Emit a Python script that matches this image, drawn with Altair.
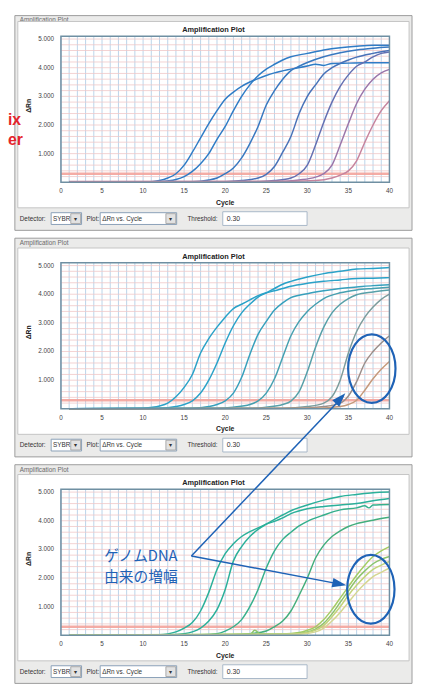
import altair as alt
import pandas as pd

# ---------------- data (cycle, ΔRn) ----------------
# Panel 1 : blue -> pink series
P1_C1 = [(1, 0.0), (11, 0.02), (12, 0.06), (13, 0.15), (14, 0.3), (15, 0.6), (16, 1.05), (17, 1.55), (18, 2.05),
         (19, 2.5), (20, 2.9), (21, 3.15), (22, 3.35), (23, 3.5), (24, 3.62), (25, 3.73), (26, 3.82), (28, 3.95),
         (30, 4.06), (31, 4.12), (32, 4.08), (33, 4.15), (35, 4.16), (37, 4.17), (40, 4.17)]
P1_C2 = [(1, 0.0), (12, 0.02), (13, 0.05), (14, 0.1), (15, 0.2), (16, 0.38), (17, 0.65), (18, 1.0), (19, 1.5),
         (20, 1.95), (21, 2.5), (22, 3.0), (23, 3.4), (24, 3.72), (25, 3.95), (26, 4.12), (27, 4.27), (28, 4.38),
         (30, 4.5), (32, 4.62), (34, 4.7), (36, 4.75), (38, 4.78), (40, 4.78)]
P1_C3 = [(1, 0.0), (16, 0.02), (18, 0.08), (19, 0.15), (20, 0.3), (21, 0.5), (22, 0.85), (23, 1.35), (24, 1.95),
         (25, 2.7), (26, 3.2), (27, 3.6), (28, 3.9), (29, 4.05), (30, 4.18), (32, 4.38), (34, 4.52), (36, 4.62),
         (38, 4.68), (40, 4.72)]
P1_C4 = [(1, 0.0), (20, 0.02), (22, 0.06), (24, 0.15), (25, 0.28), (26, 0.55), (27, 1.05), (28, 1.6), (29, 2.4),
         (30, 3.0), (31, 3.4), (32, 3.78), (33, 4.0), (34, 4.15), (35, 4.27), (36, 4.37), (38, 4.5), (40, 4.6)]
P1_C5 = [(1, 0.0), (24, 0.02), (26, 0.06), (28, 0.15), (29, 0.3), (30, 0.6), (31, 1.3), (32, 2.1), (33, 2.8),
         (34, 3.35), (35, 3.75), (36, 4.05), (37, 4.2), (38, 4.38), (39, 4.5), (40, 4.55)]
P1_C6 = [(1, 0.0), (26, 0.02), (29, 0.08), (31, 0.18), (32, 0.3), (33, 0.6), (34, 1.3), (35, 2.05), (36, 2.75),
         (37, 3.25), (38, 3.6), (39, 3.82), (40, 3.94)]
P1_C7 = [(1, 0.03), (28, 0.04), (31, 0.06), (33, 0.15), (34, 0.25), (35, 0.4), (36, 0.75), (37, 1.4), (38, 2.0),
         (39, 2.5), (40, 2.85)]
P1_COLORS = ["#2f7cc6", "#2f7cc6", "#3878c0", "#4872b8", "#6470b2", "#9a76aa", "#c6849e"]

# Panel 2 : cyan -> brown series
P2_C1 = [(1, 0.0), (10, 0.02), (11, 0.05), (12, 0.1), (13, 0.2), (14, 0.42), (15, 0.75), (16, 1.2), (17, 1.95),
         (18, 2.45), (19, 2.85), (20, 3.2), (21, 3.5), (22, 3.65), (23, 3.8), (24, 3.95), (25, 4.05), (26, 4.12),
         (27, 4.2), (28, 4.28), (30, 4.38), (32, 4.45), (34, 4.5), (36, 4.55), (38, 4.56), (40, 4.58)]
P2_C2 = [(1, 0.0), (12, 0.02), (14, 0.08), (15, 0.15), (16, 0.28), (17, 0.55), (18, 1.0), (19, 1.6), (20, 2.3),
         (21, 2.9), (22, 3.35), (23, 3.65), (24, 3.9), (25, 4.05), (26, 4.2), (27, 4.35), (28, 4.45), (30, 4.6),
         (32, 4.72), (34, 4.8), (36, 4.88), (38, 4.9), (40, 4.93)]
P2_C3 = [(1, 0.0), (16, 0.02), (18, 0.08), (19, 0.15), (20, 0.28), (21, 0.55), (22, 1.1), (23, 1.9), (24, 2.6),
         (25, 3.05), (26, 3.45), (27, 3.7), (28, 3.88), (30, 4.02), (32, 4.12), (34, 4.2), (36, 4.25), (38, 4.3),
         (40, 4.33)]
P2_C4 = [(1, 0.0), (19, 0.02), (21, 0.06), (23, 0.15), (24, 0.28), (25, 0.55), (26, 1.05), (27, 1.8), (28, 2.55),
         (29, 3.05), (30, 3.4), (31, 3.65), (32, 3.85), (34, 4.05), (36, 4.15), (38, 4.2), (40, 4.24)]
P2_C5 = [(1, 0.0), (23, 0.02), (25, 0.06), (27, 0.15), (28, 0.27), (29, 0.6), (30, 1.3), (31, 2.15), (32, 2.85),
         (33, 3.35), (34, 3.65), (35, 3.85), (36, 3.98), (38, 4.08), (40, 4.15)]
P2_C6 = [(1, 0.0), (27, 0.02), (30, 0.08), (32, 0.2), (33, 0.42), (34, 1.0), (35, 1.95), (36, 2.7), (37, 3.2),
         (38, 3.55), (39, 3.82), (40, 4.0)]
P2_C7 = [(1, 0.0), (29, 0.02), (32, 0.08), (34, 0.2), (35, 0.45), (36, 0.95), (37, 1.6), (38, 2.0), (39, 2.3),
         (40, 2.55)]
P2_C8 = [(1, 0.0), (31, 0.02), (34, 0.08), (35, 0.15), (36, 0.3), (37, 0.65), (38, 1.05), (39, 1.38), (40, 1.65)]
P2_COLORS = ["#2aa2c8", "#2aa2c8", "#37a0bc", "#46a0b0", "#58a0a8", "#7c9c9c", "#9a8e8a", "#c49a7c"]

# Panel 3 : green series + yellow-green (genomic DNA) series
P3_C1 = [(1, 0.0), (12, 0.02), (13, 0.05), (14, 0.12), (15, 0.25), (16, 0.45), (17, 0.85), (18, 1.5), (19, 2.3),
         (20, 2.85), (21, 3.2), (22, 3.45), (23, 3.62), (24, 3.75), (25, 3.88), (26, 3.98), (27, 4.1), (28, 4.25),
         (30, 4.42), (32, 4.5), (34, 4.55), (36, 4.6), (38, 4.7), (40, 4.78)]
P3_C2 = [(1, 0.0), (13, 0.02), (15, 0.06), (16, 0.12), (17, 0.25), (18, 0.5), (19, 0.9), (20, 1.6), (21, 2.6),
         (22, 3.1), (23, 3.45), (24, 3.7), (25, 3.88), (26, 4.05), (27, 4.2), (28, 4.35), (30, 4.55), (32, 4.72),
         (34, 4.85), (36, 4.92), (38, 4.98), (40, 5.0)]
P3_C3 = [(1, 0.0), (17, 0.02), (19, 0.06), (20, 0.15), (21, 0.3), (22, 0.55), (23, 1.0), (24, 1.6), (25, 2.35),
         (26, 2.95), (27, 3.35), (28, 3.6), (29, 3.82), (30, 3.98), (32, 4.2), (34, 4.38), (36, 4.45), (37, 4.52),
         (37.5, 4.45), (38, 4.55), (40, 4.57)]
P3_C4 = [(1, 0.0), (21, 0.02), (23, 0.06), (25, 0.15), (26, 0.3), (27, 0.5), (28, 0.85), (29, 1.4), (30, 2.0),
         (31, 2.7), (32, 3.15), (33, 3.45), (34, 3.65), (35, 3.8), (36, 3.9), (38, 4.02), (40, 4.12)]
P3_C5 = [(1, 0.0), (27, 0.05), (29, 0.1), (30, 0.18), (31, 0.3), (32, 0.55), (33, 0.9), (34, 1.3), (35, 1.7),
         (36, 2.1), (37, 2.45), (38, 2.75), (39, 2.95), (40, 3.1)]
P3_C6 = [(1, 0.0), (23, 0.03), (23.6, 0.18), (24.3, 0.05), (28, 0.05), (30, 0.12), (31, 0.22), (32, 0.42),
         (33, 0.75), (34, 1.15), (35, 1.55), (36, 1.95), (37, 2.25), (38, 2.5), (39, 2.65), (40, 2.75)]
P3_C7 = [(1, 0.0), (28, 0.04), (30, 0.1), (31, 0.18), (32, 0.35), (33, 0.65), (34, 1.0), (35, 1.4), (36, 1.75),
         (37, 2.05), (38, 2.3), (39, 2.45), (40, 2.58)]
P3_C8 = [(1, 0.0), (29, 0.04), (31, 0.12), (32, 0.25), (33, 0.5), (34, 0.8), (35, 1.15), (36, 1.5), (37, 1.8),
         (38, 2.05), (39, 2.2), (40, 2.35)]
P3_COLORS = ["#2bb09a", "#2bb09a", "#36b08c", "#44ae7c", "#a4cc64", "#8cc46c", "#c2d47a", "#d4d690"]

X_LABEL_TICKS = [0, 5, 10, 15, 20, 25, 30, 35, 40]
X_GRID = list(range(0, 41))
Y_LABEL_TICKS = [1, 2, 3, 4, 5]
Y_GRID = [0.2, 0.4, 0.6, 0.8, 1.0, 1.2, 1.4, 1.6, 1.8, 2.0, 2.2, 2.4, 2.6, 2.8, 3.0, 3.2, 3.4, 3.6, 3.8, 4.0,
          4.2, 4.4, 4.6, 4.8, 5.0]
THRESHOLD = 0.30
NOTE_LINES = ["ゲノムDNA", "由来の増幅"]
SIDE_TEXT = ["ix", "er"]

# ---------------- layout ----------------
W, H = 335, 149
FONT = "Liberation Sans"
BLUE = "#1e62b6"
ONE = pd.DataFrame({"k": [0]})
XS = alt.Scale(domain=[0, 40], nice=False, zero=False)
YS = alt.Scale(domain=[0, 5.1], nice=False, zero=False)


def rect(x1, x2, y1, y2, fill, stroke=None, sw=1.0):
    kw = dict(fill=fill, strokeWidth=sw)
    if stroke:
        kw["stroke"] = stroke
    return alt.Chart(ONE).mark_rect(**kw).encode(
        x=alt.value(x1), x2=alt.value(x2), y=alt.value(y1), y2=alt.value(y2))


def text(s, x, y, size, color="#333333", weight="normal", align="left", baseline="middle", font=FONT, angle=0,
         line_height=None):
    kw = dict(text=s, fontSize=size, color=color, fontWeight=weight, align=align,
              baseline=baseline, font=font, angle=angle)
    if line_height:
        kw["lineHeight"] = line_height
    return alt.Chart(ONE).mark_text(**kw).encode(x=alt.value(x), y=alt.value(y))


def seg(x1, y1, x2, y2, color=BLUE, sw=1.5):
    return alt.Chart(ONE).mark_rule(color=color, strokeWidth=sw).encode(
        x=alt.value(x1), y=alt.value(y1), x2=alt.value(x2), y2=alt.value(y2))


ELLIPSE = "M -0.69 0 A 0.69 1 0 1 1 0.69 0 A 0.69 1 0 1 1 -0.69 0 Z"
ARROW = "M 0 0 L 0.75 2.2 L -0.75 2.2 Z"


def ellipse(cx, cy):
    return alt.Chart(ONE).mark_point(shape=ELLIPSE, filled=False, size=4900, color=BLUE, strokeWidth=2.2,
                                     opacity=1).encode(x=alt.value(cx), y=alt.value(cy))


def arrowhead(x, y, angle):
    return alt.Chart(ONE).mark_point(shape=ARROW, filled=True, size=170, color=BLUE, angle=angle,
                                     opacity=1, strokeWidth=0).encode(x=alt.value(x), y=alt.value(y))


def curves_df(curves, prefix):
    rows = []
    for i, c in enumerate(curves):
        for cyc, val in c:
            rows.append({"curve": f"{prefix}{i + 1}", "cycle": cyc, "drn": val})
    return pd.DataFrame(rows)


def panel(curves, colors, prefix, first=False, extras=()):
    df = curves_df(curves, prefix)
    ids = [f"{prefix}{i + 1}" for i in range(len(curves))]
    layers = []
    if first:
        layers.append(rect(-54, 359, -21, 660, "white"))
    fy1 = -21 if first else -25
    # window chrome
    layers.append(rect(-47, 358, fy1, 198, "#ebebea", "#9c9c9c", 1))
    layers.append(text("Amplification Plot", -42, fy1 + 2, 6.5, "#6a6a6a", baseline="top"))
    layers.append(rect(-44, 355, -15, 175, "white", "#c4c4c4", 1))
    # grid
    layers.append(alt.Chart(pd.DataFrame({"v": X_GRID})).mark_rule(color="#a9c9e4", strokeWidth=0.8).encode(
        x=alt.X("v:Q", scale=XS, axis=None)))
    layers.append(alt.Chart(pd.DataFrame({"v": Y_GRID})).mark_rule(color="#efc6c6", strokeWidth=0.8).encode(
        y=alt.Y("v:Q", scale=YS, axis=None)))
    # threshold
    layers.append(alt.Chart(pd.DataFrame({"t": [THRESHOLD]})).mark_rule(
        color="#f3a39b", strokeWidth=2.6, opacity=0.9).encode(y=alt.Y("t:Q", scale=YS, axis=None)))
    # curves
    layers.append(alt.Chart(df).mark_line(strokeWidth=1.5, interpolate="monotone").encode(
        x=alt.X("cycle:Q", scale=XS, axis=None),
        y=alt.Y("drn:Q", scale=YS, axis=None),
        color=alt.Color("curve:N", scale=alt.Scale(domain=ids, range=colors), legend=None),
        detail="curve:N"))
    # plot box
    layers.append(rect(0, W, 0, H, "transparent", "#6f8fa2", 1.5))
    # tick labels and axis titles
    layers.append(alt.Chart(pd.DataFrame({"v": X_LABEL_TICKS})).mark_text(
        fontSize=6.5, font=FONT, color="#444", baseline="middle", align="center").encode(
        x=alt.X("v:Q", scale=XS, axis=None), y=alt.value(H + 9), text=alt.Text("v:Q")))
    layers.append(alt.Chart(pd.DataFrame({"v": Y_LABEL_TICKS})).mark_text(
        fontSize=6.5, font=FONT, color="#444", baseline="middle", align="right").encode(
        y=alt.Y("v:Q", scale=YS, axis=None), x=alt.value(-7), text=alt.Text("v:Q", format=".3f")))
    layers.append(text("Cycle", W / 2, H + 21, 7, "#222", weight="bold", align="center"))
    layers.append(text("ΔRn", -33, 71, 7, "#222", weight="bold", align="center", angle=270))
    layers.append(text("Amplification Plot", 155.5, -6, 7.5, "#222", weight="bold", align="center"))
    # controls row
    cy = 186
    layers += [
        rect(-10, 21, 180, 192, "white", "#8aa0b8", 1),
        rect(10, 20, 181, 191, "#e2e2e2", "#9a9a9a", 0.8),
        rect(40, 118, 180, 192, "white", "#8aa0b8", 1),
        rect(107, 117, 181, 191, "#e2e2e2", "#9a9a9a", 0.8),
        rect(165, 251, 179, 193, "white", "#a8b8c8", 1),
        text("Detector:", -42, cy, 6.5),
        text("SYBR", -8, cy, 6.5),
        text("▾", 15, cy, 6.5, align="center"),
        text("Plot:", 26, cy, 6.5),
        text("ΔRn vs. Cycle", 42, cy, 6.5),
        text("▾", 112, cy, 6.5, align="center"),
        text("Threshold:", 129, cy, 6.5),
        text("0.30", 169, cy, 7),
    ]
    layers += list(extras)
    return alt.layer(*layers).properties(width=W, height=H)


p1 = panel([P1_C1, P1_C2, P1_C3, P1_C4, P1_C5, P1_C6, P1_C7], P1_COLORS, "a", first=True,
           extras=[text(SIDE_TEXT[0], -54, 86, 16, "#e5242b", weight="bold"),
                   text(SIDE_TEXT[1], -54, 106, 16, "#e5242b", weight="bold")])
p2 = panel([P2_C1, P2_C2, P2_C3, P2_C4, P2_C5, P2_C6, P2_C7, P2_C8], P2_COLORS, "b",
           extras=[ellipse(317, 108)])
p3 = panel([P3_C1, P3_C2, P3_C3, P3_C4, P3_C5, P3_C6, P3_C7, P3_C8], P3_COLORS, "c",
           extras=[ellipse(316, 102),
                   text(NOTE_LINES, 81.5, 68, 15, BLUE, align="center", font="Noto Sans CJK JP",
                        line_height=22),
                   seg(133, 68, 288, -95),
                   seg(133, 68, 286, 97),
                   arrowhead(290, -98, 43),
                   arrowhead(291, 98, 101)])

chart = alt.vconcat(p1, p2, p3, spacing=82, bounds="flush", padding=0).resolve_scale(
    color="independent").configure_view(strokeWidth=0)

chart.save("out.html", embed_options={"renderer": "svg", "actions": False})
